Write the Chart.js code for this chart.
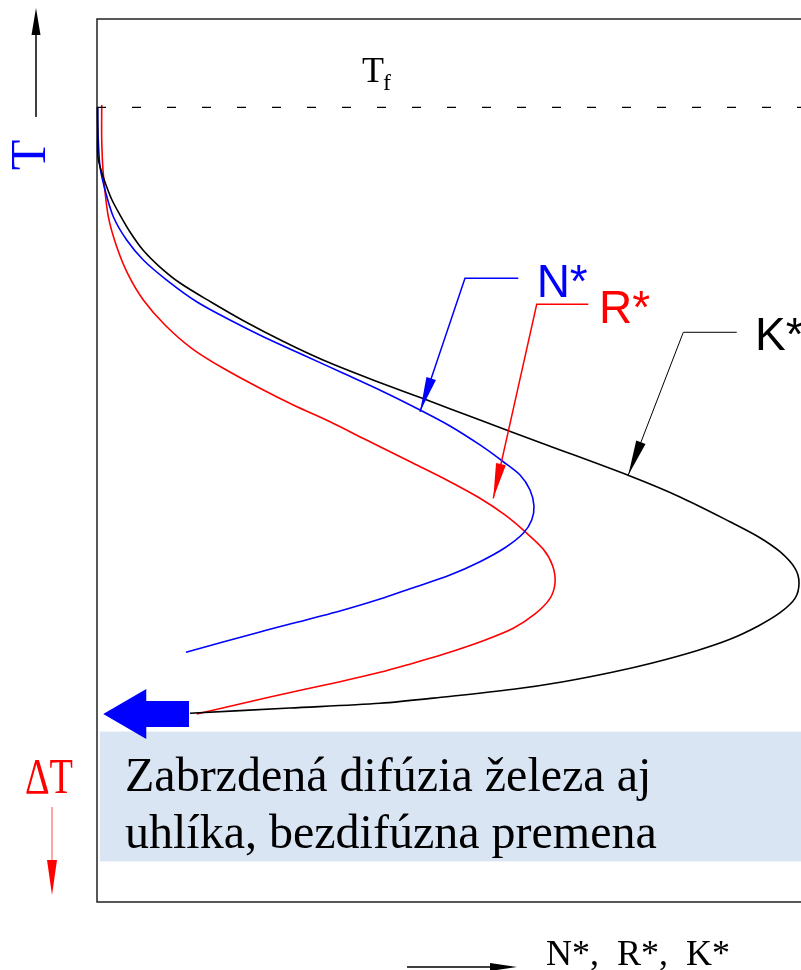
<!DOCTYPE html>
<html>
<head>
<meta charset="utf-8">
<script src="https://cdn.jsdelivr.net/npm/chart.js@4.4.1/dist/chart.umd.min.js"></script>
<style>
  html, body { margin: 0; padding: 0; background: #fff; }
  canvas { display: block; }
</style>
</head>
<body>
<canvas id="diagram" width="801" height="970"></canvas>
<script>
// x = amount (N*, R*, K*), y = depth below the top of the frame (Tf sits at 10)
const kStarAmount = [0.07, 0.1, 0.14, 0.57, 1.28, 2.13, 3.27, 4.69, 6.53, 8.95, 11.79, 16.19, 20.74, 26.42, 32.1, 39.2, 46.31, 53.93, 63.88, 75.71, 82.81, 89.91, 93.93, 97.02, 99.15, 99.72, 99.15, 97.02, 93.93, 89.91, 85.18, 79.02, 73.34, 66.24, 59.13, 49.67, 40.2, 27.41, 13.21];
const kStarT = [9.97, 12.57, 15.63, 17.1, 18.8, 20.5, 22.2, 24.12, 26.16, 28.09, 29.9, 32.05, 34.14, 36.5, 38.62, 40.88, 42.98, 45.28, 48.24, 51.76, 54.13, 56.93, 58.63, 60.33, 62.21, 63.84, 65.61, 67.24, 68.74, 70.25, 71.54, 72.9, 73.95, 75.05, 75.91, 76.75, 77.5, 78.03, 78.63];

const nStarAmount = [0.1, 0.11, 0.18, 0.43, 1.14, 2.32, 4.22, 6.58, 9.9, 14.16, 18.89, 23.62, 29.3, 34.99, 40.67, 45.88, 50.14, 54.4, 57.71, 60.09, 61.51, 62.07, 61.75, 60.55, 57.95, 54.4, 50.14, 44.93, 40.2, 34.52, 23.15, 12.64];
const nStarT = [9.97, 12.01, 13.7, 16.73, 19.37, 22.39, 25.03, 27.29, 29.56, 32.02, 34.09, 35.98, 38.05, 40.12, 42.21, 44.28, 46.09, 48.24, 50.14, 51.64, 53.34, 55.15, 56.74, 58.24, 59.88, 61.46, 62.97, 64.4, 65.69, 67.04, 69.42, 71.72];

const rStarAmount = [0.67, 0.67, 0.89, 1.61, 2.8, 4.45, 6.58, 9.66, 13.45, 17.94, 23.15, 27.88, 33.1, 38.07, 40.2, 44.93, 49.67, 54.4, 57.95, 60.8, 63.4, 64.73, 65.06, 64.35, 62.22, 59.13, 54.87, 49.19, 43.99, 40.2, 34.52, 24.57, 14.16];
const rStarT = [9.74, 13.7, 17.47, 22.39, 25.79, 28.99, 31.82, 34.65, 37.29, 39.56, 41.82, 43.71, 45.61, 47.6, 48.44, 50.32, 52.21, 54.28, 56.17, 58.06, 60.06, 61.95, 63.84, 65.61, 67.38, 69.0, 70.41, 71.95, 73.16, 73.99, 75.05, 76.78, 78.71];

const meltLevel = 10; // Tf
const noteLines = ["Zabrzdená difúzia železa aj", "uhlíka, bezdifúzna premena"];
const axisName = "N*,  R*,  K*";

const toPoints = (xs, ys) => xs.map((x, i) => ({ x: x, y: ys[i] }));

// callouts: arrow tip on the curve, knee of the leader, end of the shelf, text anchor
const callouts = [
  { text: "N*", color: "#0000ff", lw: 1.5, tip: [45.88, 44.47], knee: [52.27, 29.37], end: [59.84, 29.37], at: [62.45, 31.45] },
  { text: "R*", color: "#ff0000", lw: 1.5, tip: [56.29, 54.28], knee: [62.46, 32.31], end: [69.79, 32.31], at: [71.31, 34.39] },
  { text: "K*", color: "#000000", lw: 1, tip: [75.47, 51.64], knee: [83.28, 35.48], end: [90.87, 35.48], at: [93.47, 37.49] },
];

function arrowHead(ctx, fromX, fromY, toX, toY, len, half) {
  const a = Math.atan2(toY - fromY, toX - fromX);
  const bx = toX - len * Math.cos(a);
  const by = toY - len * Math.sin(a);
  ctx.beginPath();
  ctx.moveTo(toX, toY);
  ctx.lineTo(bx + half * Math.sin(a), by - half * Math.cos(a));
  ctx.lineTo(bx - half * Math.sin(a), by + half * Math.cos(a));
  ctx.closePath();
  ctx.fill();
}

function fillCondensed(ctx, text, x, y, width) {
  const w = ctx.measureText(text).width;
  ctx.save();
  ctx.translate(x, y);
  ctx.scale(width / w, 1);
  ctx.fillText(text, 0, 0);
  ctx.restore();
}

const SERIF = "'Liberation Serif', 'Times New Roman', serif";

const diagramDecor = {
  id: "diagramDecor",
  beforeDatasetsDraw(chart) {
    const { ctx, chartArea: area, scales } = chart;
    const sx = scales.x, sy = scales.y;

    // shaded note box
    ctx.save();
    ctx.fillStyle = "#dae5f4";
    const bx = sx.getPixelForValue(0.4);
    const by = sy.getPixelForValue(80.7);
    ctx.fillRect(bx, by, area.right - bx, sy.getPixelForValue(95.4) - by);

    // frame
    ctx.strokeStyle = "#222";
    ctx.lineWidth = 1.5;
    ctx.beginPath();
    ctx.moveTo(area.right, area.top);
    ctx.lineTo(area.left, area.top);
    ctx.lineTo(area.left, area.bottom);
    ctx.lineTo(area.right, area.bottom);
    ctx.stroke();
    ctx.restore();
  },
  afterDatasetsDraw(chart) {
    const { ctx, chartArea: area, scales } = chart;
    const sx = scales.x, sy = scales.y;
    ctx.save();

    // leader lines with labels
    callouts.forEach((c) => {
      const tx = sx.getPixelForValue(c.tip[0]), ty = sy.getPixelForValue(c.tip[1]);
      const kx = sx.getPixelForValue(c.knee[0]), ky = sy.getPixelForValue(c.knee[1]);
      const ex = sx.getPixelForValue(c.end[0]);
      ctx.strokeStyle = c.color;
      ctx.fillStyle = c.color;
      ctx.lineWidth = c.lw;
      ctx.beginPath();
      ctx.moveTo(ex, ky);
      ctx.lineTo(kx, ky);
      ctx.lineTo(tx, ty);
      ctx.stroke();
      arrowHead(ctx, kx, ky, tx, ty, 35, 5);
      ctx.font = "46px 'Liberation Sans', Arial, sans-serif";
      ctx.textAlign = "left";
      ctx.textBaseline = "alphabetic";
      ctx.fillText(c.text, sx.getPixelForValue(c.at[0]), sy.getPixelForValue(c.at[1]));
    });

    // Tf label
    ctx.fillStyle = "#000";
    ctx.font = "36px " + SERIF;
    const tfx = sx.getPixelForValue(37.64), tfy = sy.getPixelForValue(7.1);
    ctx.fillText("T", tfx, tfy);
    ctx.font = "24px " + SERIF;
    ctx.fillText("f", tfx + 21, tfy + 8);

    // big blue arrow pointing at the meeting point of the curves
    const ax = sx.getPixelForValue(0.89), ay = sy.getPixelForValue(78.71);
    const shaftEnd = sx.getPixelForValue(13.07);
    ctx.fillStyle = "#0000ff";
    ctx.beginPath();
    ctx.moveTo(ax, ay);
    ctx.lineTo(ax + 43, ay - 25);
    ctx.lineTo(ax + 43, ay - 13);
    ctx.lineTo(shaftEnd, ay - 13);
    ctx.lineTo(shaftEnd, ay + 13);
    ctx.lineTo(ax + 43, ay + 13);
    ctx.lineTo(ax + 43, ay + 25);
    ctx.closePath();
    ctx.fill();

    // note text
    ctx.fillStyle = "#000";
    ctx.font = "48px " + SERIF;
    ctx.fillText(noteLines[0], area.left + 28, 791);
    ctx.fillText(noteLines[1], area.left + 28, 848);

    // vertical axis: T up, ΔT down
    ctx.strokeStyle = "#000";
    ctx.fillStyle = "#000";
    ctx.lineWidth = 1.5;
    ctx.beginPath();
    ctx.moveTo(36, 117);
    ctx.lineTo(36, 30);
    ctx.stroke();
    arrowHead(ctx, 36, 117, 36, 8, 27, 4.5);

    ctx.save();
    ctx.translate(45, 155);
    ctx.rotate(-Math.PI / 2);
    ctx.fillStyle = "#0000ff";
    ctx.font = "50px " + SERIF;
    ctx.textAlign = "center";
    ctx.fillText("T", 0, 0);
    ctx.restore();

    ctx.fillStyle = "#ff0000";
    ctx.font = "50px " + SERIF;
    fillCondensed(ctx, "ΔT", 25, 793, 48);

    ctx.strokeStyle = "#ff6666";
    ctx.lineWidth = 1.2;
    ctx.beginPath();
    ctx.moveTo(52, 807);
    ctx.lineTo(52, 862);
    ctx.stroke();
    arrowHead(ctx, 52, 807, 52, 895, 35, 5);

    // horizontal axis: N*, R*, K* to the right
    ctx.strokeStyle = "#000";
    ctx.fillStyle = "#000";
    ctx.lineWidth = 1.5;
    ctx.beginPath();
    ctx.moveTo(407, 967);
    ctx.lineTo(495, 967);
    ctx.stroke();
    arrowHead(ctx, 407, 967, 517, 967, 27, 4);
    ctx.font = "36px " + SERIF;
    ctx.fillText(axisName, 546, 965);

    ctx.restore();
  },
};

const curve = (label, xs, ys, color) => ({
  label: label,
  data: toPoints(xs, ys),
  showLine: true,
  borderColor: color,
  backgroundColor: color,
  borderWidth: 1.6,
  pointRadius: 0,
  tension: 0.3,
  clip: false,
});

const ctx = document.getElementById("diagram").getContext("2d");

new Chart(ctx, {
  type: "scatter",
  data: {
    datasets: [
      {
        label: "Tf",
        data: [{ x: 0, y: meltLevel }, { x: 100, y: meltLevel }],
        showLine: true,
        borderColor: "#000",
        borderWidth: 1.2,
        borderDash: [9, 26],
        pointRadius: 0,
      },
      curve("K*", kStarAmount, kStarT, "#000000"),
      curve("N*", nStarAmount, nStarT, "#0000ff"),
      curve("R*", rStarAmount, rStarT, "#ff0000"),
    ],
  },
  options: {
    responsive: false,
    animation: false,
    devicePixelRatio: 1,
    layout: { padding: { left: 97, top: 19, right: 0, bottom: 68 } },
    plugins: {
      legend: { display: false },
      tooltip: { enabled: false },
    },
    scales: {
      x: { type: "linear", min: 0, max: 100, display: false },
      y: { type: "linear", min: 0, max: 100, reverse: true, display: false },
    },
  },
  plugins: [diagramDecor],
});
</script>
</body>
</html>
